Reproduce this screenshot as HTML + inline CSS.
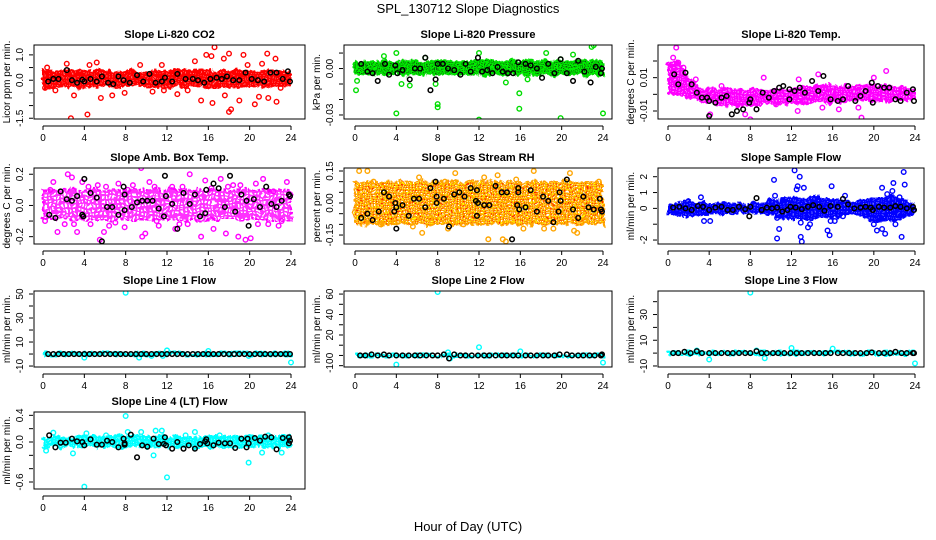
<!DOCTYPE html>
<html><head><meta charset="utf-8"><style>
html,body{margin:0;padding:0;background:#fff}
svg{display:block}
text{font-family:"Liberation Sans",sans-serif}
</style></head><body>
<svg id="chart" width="936" height="540" viewBox="0 0 936 540" xmlns="http://www.w3.org/2000/svg">
<defs>
<filter id="fuzz" x="-5%" y="-40%" width="110%" height="180%">
<feTurbulence type="fractalNoise" baseFrequency="0.12" numOctaves="2" seed="3" result="n"/>
<feDisplacementMap in="SourceGraphic" in2="n" scale="8" xChannelSelector="R" yChannelSelector="G"/>
</filter>
<pattern id="pat-red" width="3" height="3" patternUnits="userSpaceOnUse"><rect width="3" height="3" fill="#ff0000"/><rect x="1" y="1" width="1" height="1" fill="#ff7070"/></pattern>
<pattern id="pat-green" width="2" height="2" patternUnits="userSpaceOnUse"><rect width="2" height="2" fill="#00ee00"/><rect width="1" height="1" fill="#106010"/></pattern>
<pattern id="pat-mag" width="3" height="3" patternUnits="userSpaceOnUse"><rect width="3" height="3" fill="#ff00ff"/><rect x="1" y="1" width="1" height="1" fill="#ffaaff"/></pattern>
<pattern id="pat-amb" width="4" height="4" patternUnits="userSpaceOnUse"><rect width="4" height="4" fill="#ff33ff"/><rect x="1" y="1" width="2" height="2" fill="#ffffff"/></pattern>
<pattern id="pat-rh" width="3" height="3" patternUnits="userSpaceOnUse"><rect width="3" height="3" fill="#ffa500"/><rect width="1" height="1" fill="#ffff00"/><rect x="1" y="1" width="1" height="1" fill="#ff2200"/><rect x="2" y="2" width="1" height="1" fill="#ffffff"/></pattern>
<pattern id="pat-blue" width="3" height="3" patternUnits="userSpaceOnUse"><rect width="3" height="3" fill="#0000ff"/><rect x="1" y="1" width="1" height="1" fill="#6666ff"/></pattern>
<pattern id="pat-cyan" width="3" height="3" patternUnits="userSpaceOnUse"><rect width="3" height="3" fill="#00ffff"/><rect x="1" y="1" width="1" height="1" fill="#90ffff"/></pattern>
</defs>
<text x="468" y="13" font-size="13" text-anchor="middle">SPL_130712  Slope Diagnostics</text>
<text x="468" y="531" font-size="13" text-anchor="middle">Hour of Day (UTC)</text>
</svg>
<script>
// ---- data ----
const xTicks = [0,4,8,12,16,20,24];
const titles = ["Slope Li-820 CO2","Slope Li-820 Pressure","Slope Li-820 Temp.","Slope Amb. Box Temp.","Slope Gas Stream RH","Slope Sample Flow","Slope Line 1 Flow","Slope Line 2 Flow","Slope Line 3 Flow","Slope Line 4 (LT) Flow"];
const yTitles = ["Licor ppm per min.","kPa per min.","degrees C per min.","degrees C per min.","percent per min.","ml/min per min.","ml/min per min.","ml/min per min.","ml/min per min.","ml/min per min."];
const yRanges = [[-1.53,1.39],[-0.0326,0.0152],[-0.0148,0.0296],[-0.247,0.24],[-0.192,0.164],[-2.25,2.55],[-10.8,52.5],[-11.3,63],[-10.8,48.3],[-0.705,0.45]];
const yTicks = [[-1.5,-1,-0.5,0,0.5,1],[-0.03,-0.02,-0.01,0,0.01],[-0.01,0,0.01,0.02],[-0.2,-0.1,0,0.1,0.2],[-0.15,-0.1,-0.05,0,0.05,0.1,0.15],[-2,-1,0,1,2],[-10,0,10,20,30,40,50],[-10,0,10,20,30,40,50,60],[-10,0,10,20,30,40],[-0.6,-0.4,-0.2,0,0.2,0.4]];
const yTickLabels = [["-1.5","","","0.0","","1.0"],["-0.03","","","0.00",""],["-0.01","","0.01",""],["-0.2","","0.0","","0.2"],["-0.15","","","0.00","","","0.15"],["-2","","0","1","2"],["-10","","10","","30","","50"],["-10","0","","20","","40","","60"],["-10","","10","","30",""],["-0.6","","","0.0","","0.4"]];
const bandHours = [[0,24],[0,24],[0,1,2,3,4,6,8,10,12,14,16,18,20,22,24],[0,24],[0,24],[0,2,4,6,8,10,12,14,16,18,20,22,24],[0,24],[0,24],[0,24],[0,24]];
const bandLo = [[-0.28,-0.28],[-0.004,-0.004],[0,0,-0.002,-0.004,-0.006,-0.007,-0.007,-0.006,-0.006,-0.005,-0.005,-0.004,-0.004,-0.004,-0.003],[-0.09,-0.09],[-0.1,-0.1],[-0.4,-0.5,-0.4,-0.3,-0.3,-0.4,-0.7,-0.7,-0.6,-0.3,-0.8,-0.8,-0.3],[-1.5,-1.5],[-1.5,-1.5],[-1.5,-1.5],[-0.08,-0.08]];
const bandHi = [[0.38,0.38],[0.005,0.005],[0.018,0.02,0.01,0.005,0.003,0.003,0.003,0.003,0.004,0.005,0.006,0.005,0.006,0.005,0.004],[0.1,0.1],[0.1,0.1],[0.3,0.5,0.3,0.3,0.3,0.5,0.7,0.7,0.6,0.4,0.7,0.8,0.3],[1.5,1.5],[1.5,1.5],[1.5,1.5],[0.09,0.09]];
const colors = ["#ff0000","#00dd00","#ff00ff","#ff00ff","#ffa500","#0000ff","#00ffff","#00ffff","#00ffff","#00ffff"];
const fills = ["url(#pat-red)","url(#pat-green)","url(#pat-mag)","url(#pat-amb)","url(#pat-rh)","url(#pat-blue)","url(#pat-cyan)","url(#pat-cyan)","url(#pat-cyan)","url(#pat-cyan)"];
const colorPts = [
[[2.7,-1.5],[4.3,-1.35],[2.3,0.65],[5.2,0.7],[5.6,-0.7],[3,-0.6],[6.7,-0.6],[7.9,-0.5],[9.4,0.6],[11.5,0.6],[15.3,-0.8],[15.8,1.0],[16.4,-0.9],[16.6,1.3],[16.3,0.95],[17.6,-0.6],[18,-1.25],[18.2,-1.15],[18,1.05],[17.5,0.85],[19.4,1.0],[19,-0.8],[20.5,-0.95],[21.7,1.05],[22.5,0.85],[22.6,-0.85],[21.2,0.65],[20.9,-0.65],[14.7,0.75],[13,-0.55],[0.2,-0.3],[0.4,0.5],[1.2,-0.4],[4.5,0.6],[10.6,-0.45],[11.7,-0.4],[14,-0.4],[19.8,0.6],[21.8,-0.7],[23,-0.3]],
[[0.1,-0.014],[0.2,-0.008],[4,-0.029],[4,0.01],[4.5,-0.01],[5.3,-0.011],[7.8,-0.01],[8,-0.023],[8,-0.025],[12,-0.033],[12,0.01],[15.9,-0.016],[15.9,-0.026],[18.5,0.010],[19.9,-0.032],[19.9,0.006],[22.9,0.014],[23.1,0.015],[24,-0.029],[21.1,0.009],[14.6,-0.009],[16.7,-0.007],[2.8,0.008],[6.8,0.007]],
[[0.8,0.028],[0.5,0.022],[1,0.019],[1.5,0.016],[8,-0.015],[18.8,-0.014],[21.2,0.014],[14.6,0.012],[12.7,0.009],[5.2,0.005],[9.3,0.01],[15,-0.008],[12.6,-0.01],[16.6,-0.009],[7.5,-0.012],[4.1,-0.012],[2.7,0.009],[20,0.01],[10.5,-0.006],[18.5,-0.008]],
[[0.2,-0.1],[1.4,-0.17],[2.4,0.2],[2.8,0.18],[3.3,-0.17],[3.8,0.15],[4.6,-0.12],[5.3,0.13],[5.5,-0.22],[5.9,-0.17],[6.4,-0.13],[7.3,0.14],[7.9,-0.14],[8.7,0.13],[9.5,0.24],[9.6,-0.2],[9.9,-0.18],[10.3,0.15],[11.2,-0.13],[12.5,0.12],[12.8,-0.15],[14.2,0.2],[14,-0.12],[15.3,-0.2],[15.7,0.16],[17.2,0.17],[17.7,-0.18],[18.9,-0.2],[19.6,-0.22],[20.1,-0.21],[20.6,0.14],[21.3,0.17],[22.3,0.09],[22.8,-0.13],[23.6,0.15],[1,0.15],[0.7,0.1],[13.5,0.12],[16.5,-0.15],[18.4,0.13],[6.1,0.12],[8.2,0.1],[11,-0.1],[4.4,0.12],[2.1,-0.12],[16.3,0.11],[19.1,0.13],[21.8,-0.12],[23.1,-0.1],[3,-0.12],[7,-0.11],[10.8,0.12],[13.2,-0.12],[17.9,0.12],[20.8,-0.12]],
[[0.4,0.15],[1.2,0.15],[1.8,0.1],[6.2,0.12],[6.5,-0.14],[8.7,0.1],[9,-0.12],[9.7,0.14],[12.5,0.12],[12.9,-0.17],[14.3,-0.17],[14.6,-0.18],[15.6,0.11],[17.3,0.15],[18.3,-0.12],[19.2,-0.12],[20.8,0.14],[21.2,-0.13],[21.5,-0.14],[23.6,0.1],[2.5,-0.1],[3.8,-0.09],[5.6,-0.11],[7.3,-0.07],[16.3,-0.12],[22.3,-0.08],[10.5,-0.1],[13.8,0.13]],
[[3.2,0.7],[3.5,-0.8],[4.1,-0.8],[10.3,1.8],[10.4,0.8],[10.6,-1.9],[10.8,-1.3],[10.6,-0.6],[12.3,2.4],[12.5,1.2],[12.6,1.4],[12.8,2],[12.9,-1.8],[13,-2.1],[13.2,1.3],[12.9,-0.9],[13.8,-1],[13.6,-1.2],[15.5,-1.4],[15.7,-1.7],[15.9,1.4],[15.8,-0.8],[16.2,-0.8],[17.2,0.8],[17,-0.5],[20,-1],[20.3,-1.4],[20.8,1.3],[21.1,-1.6],[21.3,0.9],[21.9,1.6],[21.8,1.1],[22.1,-1],[22.5,0.7],[22.9,2.3],[23,1.5],[22.7,-1.8],[20.8,-1.3]],
[[8,51],[4,-3],[9.3,-3],[12,3],[16,2.5],[24,-7],[10.5,-1.5],[11.6,-1.5],[19.9,-1.5]],
[[8,62],[4,-9],[12,8],[24,-7],[16,4],[9.2,-3],[9,3]],
[[8,47],[4,-5],[9.4,-4],[12,4],[16,3.5],[24,-8],[2.8,2],[8.6,2]],
[[8,0.39],[4,-0.67],[12,-0.53],[19.9,-0.31],[0.3,-0.13],[2.9,-0.17],[10.7,-0.2],[11.5,0.17],[10.9,0.17],[14.7,0.15],[21.2,-0.16],[23.1,-0.16],[8.2,0.15],[9.5,0.15],[1,0.14],[4.2,0.13],[6.1,0.1],[13.8,0.1],[17.1,0.1],[21.8,0.1]]
];
const blackPts = [
[[0.5,-0.05],[1,0.05],[1.5,0.05],[2.3,0.4],[2.8,0],[3.3,-0.1],[3.8,0.02],[4,-0.05],[4.6,0.05],[5.2,-0.05],[5.7,0.15],[6.3,-0.1],[6.8,-0.15],[7.3,0.15],[7.8,0],[8.4,-0.1],[9.1,0.2],[9.7,-0.05],[10.3,0.25],[10.9,-0.1],[11.5,-0.05],[11.8,0.1],[12.5,-0.05],[13,0.25],[13.8,0.05],[14.5,0.05],[15,0],[15.6,-0.1],[16.2,0.05],[16.8,0.1],[17.3,0.05],[17.8,0.15],[18.4,0],[19,0],[19.6,0.3],[20.2,0.05],[20.8,0],[21.4,-0.05],[22,0.3],[22.6,0.3],[23.2,0.05],[23.7,0.35],[23.9,-0.05]],
[[0.6,0.003],[1.2,-0.002],[1.7,-0.003],[2.2,-0.008],[2.9,0.003],[3.3,-0.004],[3.9,0.002],[4.1,-0.003],[4.6,-0.001],[5.3,-0.007],[5.8,0],[6.3,0],[6.8,0.007],[7.3,-0.014],[7.8,-0.007],[8,0.003],[8.5,0.003],[9,0],[9.6,-0.001],[10.2,-0.004],[10.7,0.003],[11.2,-0.002],[11.9,0.007],[12.3,-0.002],[12.8,-0.001],[13.3,-0.003],[13.8,0.001],[14.3,-0.002],[14.8,-0.003],[15.3,-0.003],[15.8,0.004],[16.5,0.003],[17,0.002],[17.6,0],[18.1,-0.006],[18.7,0.003],[19.3,-0.003],[19.9,0.006],[20.5,-0.003],[21.1,-0.008],[21.6,0.005],[22.2,-0.002],[22.8,-0.009],[23.3,0.001],[23.8,-0.003],[23.9,0]],
[[0.6,0.012],[1,0.006],[1.7,0.013],[2.3,0.006],[2.8,0.001],[3.3,-0.002],[3.8,-0.002],[4,-0.004],[4,-0.013],[4.6,-0.005],[5.2,-0.002],[5.7,-0.001],[6.2,-0.012],[6.7,-0.010],[7.3,-0.009],[7.9,-0.005],[8,-0.003],[8.6,-0.009],[9.2,0.001],[9.8,-0.002],[10.3,0.002],[10.8,0.004],[11.2,0.005],[11.8,-0.003],[11.8,0.003],[12.3,0.002],[12.8,0.004],[13.3,0.001],[14,0.008],[14.6,0.002],[15.1,0.011],[15.8,-0.003],[16.5,-0.004],[17,-0.003],[17.5,0.005],[18.2,-0.004],[18.7,-0.001],[19.2,0.002],[19.8,0.007],[19.9,-0.005],[20.4,0.005],[21,0.004],[21.5,0.004],[22.1,-0.003],[22.6,-0.004],[23.2,0.001],[23.8,0.003],[23.9,-0.004]],
[[0.6,-0.06],[1.2,-0.08],[1.7,0.09],[2.3,0.04],[2.8,0.03],[3.3,0.06],[3.8,-0.06],[3.9,-0.07],[4,0.17],[4.6,0.08],[5.2,0.05],[5.7,-0.23],[6.2,-0.01],[6.7,-0.01],[7.3,-0.06],[7.8,0.12],[7.9,0.07],[7.9,-0.03],[8.6,-0.01],[9.1,0.02],[9.6,0.03],[10.1,0.03],[10.6,0.03],[11.2,-0.02],[11.7,-0.07],[11.8,0.19],[11.9,0.06],[12.5,0.01],[13,-0.15],[13.6,0.08],[14.2,0.01],[14.7,0.07],[15.2,-0.07],[15.7,-0.05],[15.8,0.1],[16.5,0.14],[17,0.11],[17.6,-0.01],[18.1,0.19],[18.6,-0.04],[19.2,0.07],[19.7,0.03],[19.9,-0.13],[20.4,0.04],[21,-0.01],[21.6,0.12],[22.1,0.01],[22.6,-0.01],[23.1,0.03],[23.8,0.07],[23.9,0.06]],
[[0.6,-0.07],[1.2,-0.05],[1.7,-0.08],[2.3,-0.04],[2.8,0.05],[3.3,0.03],[3.8,-0.04],[3.9,0],[4,-0.02],[4,-0.12],[4.6,-0.01],[5.2,-0.06],[5.7,0.02],[6.2,0.02],[6.8,-0.02],[7.3,0.07],[7.8,0.1],[7.9,0],[7.9,0.03],[8.6,0.02],[9.1,-0.11],[9.6,0.04],[10.1,0.05],[10.6,0.03],[11.2,0.07],[11.7,0.01],[11.8,0.06],[11.8,-0.06],[11.9,0],[12.5,-0.01],[13,-0.01],[13.6,0.08],[14.2,0.05],[14.7,0.05],[15.2,-0.17],[15.7,-0.01],[15.8,0.07],[15.9,-0.03],[15.8,0.05],[16.5,-0.02],[17,0.06],[17.6,-0.04],[18.2,0.03],[18.7,0.01],[19.2,-0.09],[19.7,-0.04],[19.8,0.05],[19.9,0.01],[20.5,0.11],[21.1,-0.03],[21.6,-0.07],[22.1,0.03],[22.6,-0.02],[23.1,-0.03],[23.7,0.02],[23.8,-0.03],[23.9,-0.04]],
[[0.5,0.05],[1.1,0.1],[1.7,0],[2.3,-0.1],[2.9,0.15],[3.4,0.1],[4,-0.1],[4.6,0.05],[5.2,0.1],[5.8,-0.1],[6.3,-0.1],[6.9,0.1],[7.5,-0.05],[7.9,-0.5],[8,0.1],[8.6,0.65],[9.1,-0.1],[9.6,0.05],[10.1,0],[10.6,0.05],[11.1,-0.2],[11.6,-0.1],[11.9,0.1],[12.4,0.05],[13,-0.05],[13.6,0.1],[14.1,0.2],[14.7,0.1],[15.2,-0.15],[15.8,0.15],[16.5,0.1],[17,0.6],[17.5,0.25],[18.1,0],[18.7,0.05],[19.2,0.1],[19.7,0.05],[19.9,-0.1],[20.5,0.1],[21,0.05],[21.6,0.05],[22.1,0.15],[22.6,0.1],[23.2,0],[23.8,0.1],[23.9,-0.1]],
[[0.5,0],[1,0],[1.5,0],[2,0],[2.5,0],[3,0],[3.5,0],[4,0],[4.5,0],[5,0],[5.5,0],[6,0],[6.5,0],[7,0],[7.5,0],[8,0],[8.5,0],[9,0],[9.5,0],[10,0],[10.5,0],[11,0],[11.5,0],[12,0],[12.5,0],[13,0],[13.5,0],[14,0],[14.5,0],[15,0],[15.5,0],[16,0],[16.5,0],[17,0],[17.5,0],[18,0],[18.5,0],[19,0],[19.5,0],[20,0],[20.5,0],[21,0],[21.5,0],[22,0],[22.5,0],[23,0],[23.5,0],[23.9,0]],
[[0.5,0],[1,0],[1.6,1],[2.2,0],[2.8,1],[3.3,0],[4,0],[4.6,0],[5.2,0],[5.8,0],[6.3,0],[6.9,0],[7.5,0],[8,0],[8.6,1],[9.1,-3],[9.6,1],[10.2,0],[10.7,0],[11.3,0],[11.9,0],[12.5,0],[13,0],[13.6,0],[14.2,0],[14.7,0],[15.3,0],[15.8,0],[16.5,0],[17,0],[17.6,0],[18.2,0],[18.7,0],[19.3,0],[19.8,1],[20.5,1],[21,0],[21.6,0],[22.1,0],[22.7,0],[23.2,0],[23.8,0],[23.9,1]],
[[0.5,0],[1,0],[1.6,1],[2.2,0],[2.8,1.5],[3.3,0],[4,0],[4.6,0],[5.2,0],[5.8,0],[6.3,0],[6.9,0],[7.5,0],[8,0],[8.6,1.5],[9.1,0],[9.6,0],[10.2,0],[10.7,0],[11.3,0],[11.9,0],[12.5,0],[13,0],[13.6,0],[14.2,0],[14.7,0],[15.3,0],[15.8,0],[16.5,0],[17,0],[17.6,0],[18.2,0],[18.7,0],[19.3,0],[19.8,0.5],[20.5,0],[21,0],[21.6,0],[22.1,1],[22.7,0],[23.2,0],[23.8,0],[23.9,0]],
[[0.6,0.1],[1.2,-0.08],[1.7,-0.01],[2.2,-0.01],[2.8,0.05],[3.3,0.01],[3.8,0],[4,-0.05],[4.6,0.04],[5.2,-0.04],[5.7,-0.04],[6.2,0.02],[6.7,0],[7.3,-0.08],[7.8,0.05],[7.9,-0.02],[7.9,-0.04],[8.5,0.11],[9.1,-0.23],[9.6,-0.05],[10.1,-0.07],[10.7,0.05],[11.2,-0.03],[11.8,0.07],[11.7,-0.03],[11.9,-0.05],[12.5,-0.1],[13,0],[13.6,-0.1],[14.1,-0.05],[14.7,-0.1],[15.2,-0.03],[15.7,0.01],[15.8,0.04],[15.9,-0.02],[16.5,-0.05],[17,-0.01],[17.6,-0.02],[18.1,-0.02],[18.6,-0.09],[19.2,0.05],[19.7,-0.08],[19.8,0.05],[19.9,-0.02],[20.5,0.06],[21,0.02],[21.5,0.08],[22.1,0.07],[22.6,-0.11],[23.2,0.06],[23.8,0.07],[23.8,-0.02],[23.9,0.02]]
];
const names = ["co2","pressure","licor-temp","amb-box-temp","gas-stream-rh","sample-flow","line1-flow","line2-flow","line3-flow","line4-flow"];

// ---- layout (geometry, not data) ----
const cols = [{l:34,r:305,x0:43,x24:291},{l:344,r:612,x0:355,x24:603},{l:658,r:924,x0:668,x24:915}];
const rows = [{t:45,b:119},{t:168,b:244},{t:291,b:367},{t:412,b:489}];
const NS = "http://www.w3.org/2000/svg";
const svg = document.getElementById("chart");
function mk(tag, attrs, parent){const e=document.createElementNS(NS,tag);for(const k in attrs)e.setAttribute(k,attrs[k]);(parent||svg).appendChild(e);return e;}

for(let p=0;p<10;p++){
  const c=cols[p%3], r=rows[Math.floor(p/3)];
  const [ymin,ymax]=yRanges[p];
  const X=h=>c.x0+(h/24)*(c.x24-c.x0);
  const Y=v=>r.b-(v-ymin)/(ymax-ymin)*(r.b-r.t);
  const g=mk("g",{});
  
  
  const cp=mk("clipPath",{id:"cp"+p},g);
  mk("rect",{x:c.l,y:r.t,width:c.r-c.l,height:r.b-r.t},cp);
  const plot=mk("g",{"clip-path":"url(#cp"+p+")"},g);
  // band
  const hrs=bandHours[p];
  let pts=hrs.map((h,i)=>X(h)+","+Y(bandHi[p][i]));
  pts=pts.concat(hrs.map((h,i)=>X(h)+","+Y(bandLo[p][i])).reverse());
  const bg=mk("g",{filter:"url(#fuzz)"},plot);
  const band=mk("polygon",{points:pts.join(" "),fill:fills[p],stroke:colors[p],"stroke-width":2,"stroke-dasharray":"3 2","stroke-linejoin":"round"},bg);
  
  
  colorPts[p].forEach(pt=>{
    const e=mk("circle",{cx:X(pt[0]),cy:Y(pt[1]),r:2.3,fill:"none",stroke:colors[p],"stroke-width":1.4},plot);
    
    
  });
  blackPts[p].forEach(pt=>{
    const e=mk("circle",{cx:X(pt[0]),cy:Y(pt[1]),r:2.3,fill:"none",stroke:"#000","stroke-width":1.5},plot);
    
    
  });
  // box
  const box=mk("rect",{x:c.l,y:r.t,width:c.r-c.l,height:r.b-r.t,fill:"none",stroke:"#000","stroke-width":1},g);
  
  
  // title
  const t=mk("text",{x:(c.l+c.r)/2,y:r.t-7,"font-size":11,"font-weight":"bold","text-anchor":"middle"},g);
  t.textContent=titles[p];
  
  
  // x axis
  const ay=r.b+7;
  mk("line",{x1:X(0),x2:X(24),y1:ay,y2:ay,stroke:"#000"},g);
  xTicks.forEach(h=>{
    mk("line",{x1:X(h),x2:X(h),y1:ay,y2:ay+4,stroke:"#000"},g);
    const tl=mk("text",{x:X(h),y:ay+15,"font-size":10,"text-anchor":"middle"},g);
    tl.textContent=h;
    
    
  });
  // y axis
  const ax=c.l-1;
  yTicks[p].forEach((v,i)=>{
    mk("line",{x1:ax-4,x2:ax,y1:Y(v),y2:Y(v),stroke:"#000"},g);
    const lab=yTickLabels[p][i];
    if(lab){
      const lx=ax-10;
      const tl=mk("text",{x:lx,y:Y(v),"font-size":10,"text-anchor":"middle",transform:"rotate(-90 "+lx+" "+Y(v)+")"},g);
      tl.textContent=lab;
      
      
    }
  });
  const ytx=c.l-24, yty=(r.t+r.b)/2;
  const yt=mk("text",{x:ytx,y:yty,"font-size":10,"text-anchor":"middle",transform:"rotate(-90 "+ytx+" "+yty+")"},g);
  yt.textContent=yTitles[p];
  
  
}
</script>
</body></html>
